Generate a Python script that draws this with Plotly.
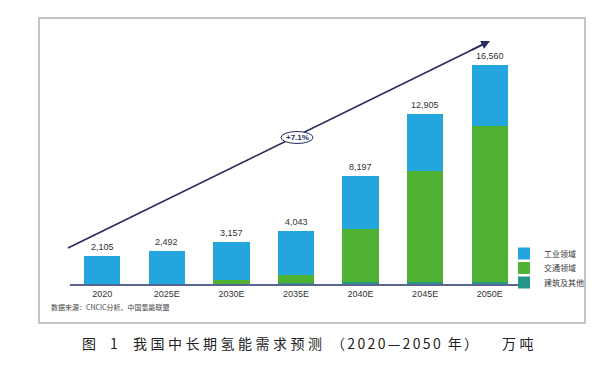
import plotly.graph_objects as go

categories = ["2020", "2025E", "2030E", "2035E", "2040E", "2045E", "2050E"]
totals = [2105, 2492, 3157, 4043, 8197, 12905, 16560]
transport = [0, 20, 280, 620, 4000, 8400, 11800]
building = [0, 10, 30, 50, 150, 160, 170]
industry = [t - a - b for t, a, b in zip(totals, transport, building)]
total_labels = [f"{v:,}" for v in totals]

names = ["工业领域", "交通领域", "建筑及其他"]
colors = ["#22a6dd", "#50b232", "#26968a"]

# page body has an 8px default margin: figure is shifted by 8px
OFF = 8
W, H = 601 - OFF, 389 - OFF
PL, PR, PT, PB = 70, 522, 40, 284      # plot area in screen pixels
L, R, T, B = PL - OFF, (W + OFF) - PR, PT - OFF, (H + OFF) - PB
PW, PH = PR - PL, PB - PT


def px(x):
    return (x - PL) / PW


def py(y):
    return (PB - y) / PH


fig = go.Figure()
fig.add_trace(go.Bar(x=categories, y=building, name=names[2], marker_color=colors[2],
                     marker_line_width=0, legend="legend3"))
fig.add_trace(go.Bar(x=categories, y=transport, name=names[1], marker_color=colors[1],
                     marker_line_width=0, legend="legend2"))
fig.add_trace(go.Bar(x=categories, y=industry, name=names[0], marker_color=colors[0],
                     marker_line_width=0, legend="legend"))

annotations = []
for i, (v, lab) in enumerate(zip(totals, total_labels)):
    annotations.append(dict(x=i, y=v, xref="x", yref="y", text=lab, showarrow=False,
                            yanchor="bottom", yshift=2,
                            font=dict(size=9, color="#333333", family="Liberation Sans")))

navy = "#262a5e"
annotations.append(dict(x=px(490), y=py(41), xref="paper", yref="paper", ax=-20, ay=9.8,
                        text="", showarrow=True, arrowhead=2, arrowsize=1.1,
                        arrowwidth=1.6, arrowcolor=navy))
annotations.append(dict(x=px(297), y=py(137.5), xref="paper", yref="paper", text="<b>+7.1%</b>",
                        showarrow=False, font=dict(size=8, color=navy, family="Liberation Sans")))
annotations.append(dict(x=px(49), y=py(314), xref="paper", yref="paper", xanchor="left",
                        text="数据来源：CNCIC分析、中国氢能联盟", showarrow=False,
                        font=dict(size=7, color="#444444", family="Noto Sans CJK SC")))

cap_font = dict(size=14, color="#222222", family="Noto Sans CJK SC")
sp = "\u2005"
sp2 = "\u2006"
annotations.append(dict(x=px(80), y=py(355), xref="paper", yref="paper", xanchor="left",
                        text="图\u2002\u20021", showarrow=False, font=cap_font))
annotations.append(dict(x=px(131), y=py(355), xref="paper", yref="paper", xanchor="left",
                        text=sp.join("我国中长期氢能需求预测"), showarrow=False, font=cap_font))
annotations.append(dict(x=px(329), y=py(355), xref="paper", yref="paper", xanchor="left",
                        text=sp2.join("（2020—2050") + "\u2002年" + sp2 + "）",
                        showarrow=False, font=cap_font))
annotations.append(dict(x=px(500), y=py(355), xref="paper", yref="paper", xanchor="left",
                        text="万" + sp + "吨", showarrow=False, font=cap_font))

shapes = [
    dict(type="rect", xref="paper", yref="paper", x0=px(39), x1=px(585), y0=py(323), y1=py(18),
         line=dict(color="#c4c4c4", width=2), fillcolor="rgba(0,0,0,0)", layer="below"),
    dict(type="line", xref="paper", yref="paper", x0=px(68), y0=py(248), x1=px(488), y1=py(42),
         line=dict(color=navy, width=1.6)),
    dict(type="circle", xref="paper", yref="paper", x0=px(281), x1=px(313), y0=py(143.5), y1=py(131.5),
         line=dict(color=navy, width=1), fillcolor="white"),
]

leg_font = dict(size=8, color="#333333", family="Noto Sans CJK SC")


def leg(ytop):
    return dict(x=px(504), y=py(ytop), xanchor="left", yanchor="top", font=leg_font,
                itemwidth=30, bgcolor="rgba(0,0,0,0)", borderwidth=0)


fig.update_layout(
    width=W, height=H,
    margin=dict(l=L, r=R, t=T, b=B, autoexpand=False),
    barmode="stack", bargap=0.44,
    paper_bgcolor="white", plot_bgcolor="white",
    xaxis=dict(type="category", range=[-0.5, 6.5], autorange=False, showline=True,
               linecolor="#5b6690", linewidth=1.5, ticks="",
               tickfont=dict(size=9, color="#333333", family="Liberation Sans"),
               showgrid=False, fixedrange=True),
    yaxis=dict(range=[0, 18485], autorange=False, visible=False, showgrid=False, fixedrange=True),
    legend=leg(239),
    legend2=leg(253.5),
    legend3=leg(268),
    annotations=annotations,
    shapes=shapes,
    showlegend=True,
)

fig.write_html("out.html")
